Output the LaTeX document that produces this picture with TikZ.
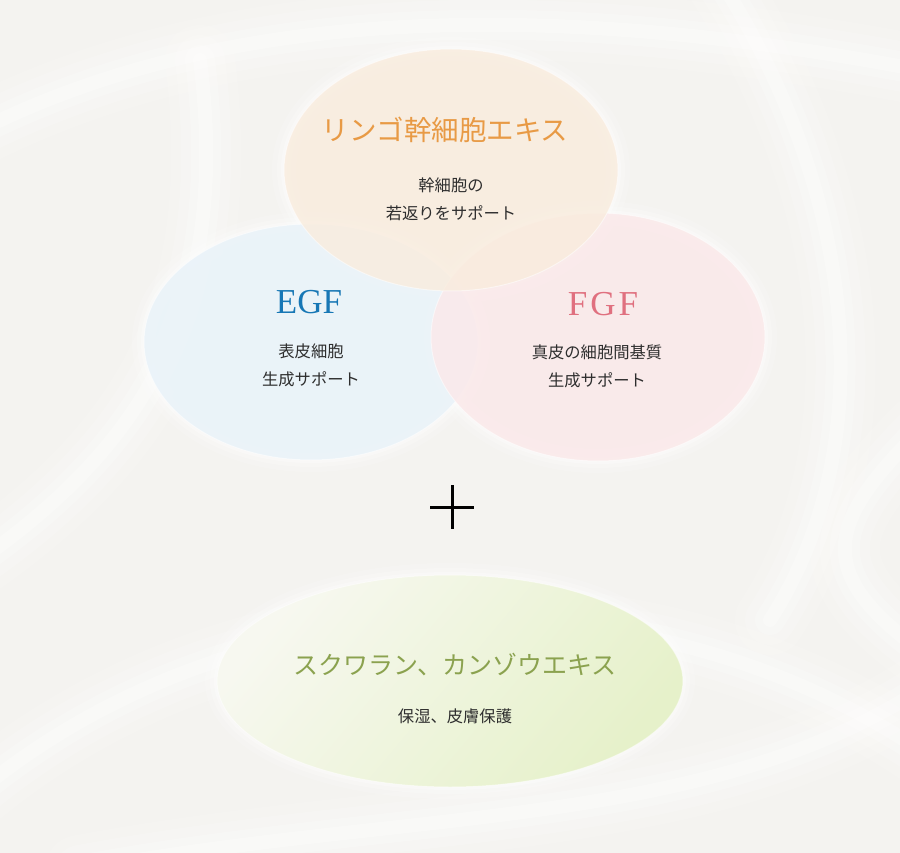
\documentclass[tikz,border=0pt]{standalone}
\usepackage{fontspec}
\newfontfamily\jp{Noto Sans CJK JP}
\newfontfamily\titleserif{Liberation Serif}
\definecolor{bgcol}{HTML}{F4F3F0}
\definecolor{orangefill}{HTML}{F9ECDD}
\definecolor{bluefill}{HTML}{EAF3F9}
\definecolor{pinkfill}{HTML}{FBE9EA}
\definecolor{greenlight}{HTML}{F7F8F0}
\definecolor{greendark}{HTML}{E6F1CA}
\definecolor{orangetxt}{HTML}{E89A45}
\definecolor{bluetxt}{HTML}{1777B5}
\definecolor{pinktxt}{HTML}{E0707F}
\definecolor{greentxt}{HTML}{8BA24F}
\definecolor{bodytxt}{HTML}{2E2E2E}
\usetikzlibrary{shapes.geometric}
\begin{document}
\begin{tikzpicture}[x={(1pt,0)},y={(0,-1pt)},
  blob/.style={ellipse, inner sep=0pt, draw=white, line width=1pt, draw opacity=0.5},
  title/.style={font=\jp\fontsize{27.5}{30}\selectfont, inner sep=0pt},
  latin/.style={font=\titleserif\fontsize{35}{38}\selectfont, inner sep=0pt},
  body/.style={font=\jp\fontsize{16.3}{28}\selectfont, text=bodytxt, align=center, inner sep=0pt},
  swirl/.style={white, line cap=round}]
\useasboundingbox (0,0) rectangle (900,853);
\fill[bgcol] (0,0) rectangle (900,853);
% background swirls (soft, layered)
\foreach \w/\o in {70/0.12,50/0.15,30/0.2,14/0.25}{
  \draw[swirl, line width=\w pt, opacity=\o] (-20,130) .. controls (200,20) and (500,-10) .. (920,70);
  \draw[swirl, line width=\w pt, opacity=\o] (-20,560) .. controls (150,440) and (230,300) .. (200,60);
  \draw[swirl, line width=\w pt, opacity=\o] (720,-20) .. controls (860,200) and (880,450) .. (770,620);
  \draw[swirl, line width=\w pt, opacity=\o] (-20,790) .. controls (250,570) and (650,570) .. (920,750);
  \draw[swirl, line width=\w pt, opacity=\o] (80,870) .. controls (400,810) and (700,830) .. (920,690);
  \draw[swirl, line width=\w pt, opacity=\o] (920,430) .. controls (830,520) and (810,570) .. (920,650);
}
% halos
\foreach \w/\o in {24/0.15,14/0.2,6/0.3}{
  \draw[white, line width=\w pt, opacity=\o] (311,342) ellipse [x radius=167, y radius=118];
  \draw[white, line width=\w pt, opacity=\o] (598,337) ellipse [x radius=167, y radius=124];
  \draw[white, line width=\w pt, opacity=\o] (451,170) ellipse [x radius=167, y radius=121];
  \draw[white, line width=\w pt, opacity=\o] (450,681) ellipse [x radius=233, y radius=106];
}
% ellipses
\node[blob, fill=bluefill, fill opacity=0.92, minimum width=334pt, minimum height=236pt] (egfe) at (311,342) {};
\node[blob, fill=pinkfill, fill opacity=0.85, minimum width=334pt, minimum height=248pt] (fgfe) at (598,337) {};
\node[blob, fill=orangefill, fill opacity=0.8, minimum width=334pt, minimum height=242pt] (appe) at (451,170) {};
\begin{scope}[y={(0,1pt)}]
\shade[left color=greenlight, right color=greendark, shading angle=50] (450,-681) ellipse [x radius=233, y radius=106];
\end{scope}
\node[blob, minimum width=466pt, minimum height=212pt] (sqe) at (450,681) {};
% texts
\node[title, text=orangetxt] (apple) at (445,130) {リンゴ幹細胞エキス};
\node[body] (appleb) at (451,199) {幹細胞の\\若返りをサポート};
\node[latin, text=bluetxt] (egf) at (309,302) {EGF};
\node[body] (egfb) at (311,365) {表皮細胞\\生成サポート};
\node[latin, text=pinktxt] (fgf) at (603,304) {F\hspace{3pt}G\hspace{3pt}F};
\node[body] (fgfb) at (597,366) {真皮の細胞間基質\\生成サポート};
\node[title, text=greentxt, font=\jp\fontsize{25}{30}\selectfont] (sq) at (455,665) {スクワラン、カンゾウエキス};
\node[body] (sqb) at (455,716) {保湿、皮膚保護};
% plus
\coordinate (pl) at (430,507);
\coordinate (pr) at (474,507);
\coordinate (pt) at (452,485);
\coordinate (pb) at (452,529);
\draw[line width=3pt] (pl) -- (pr);
\draw[line width=3pt] (pt) -- (pb);
\end{tikzpicture}
\end{document}
